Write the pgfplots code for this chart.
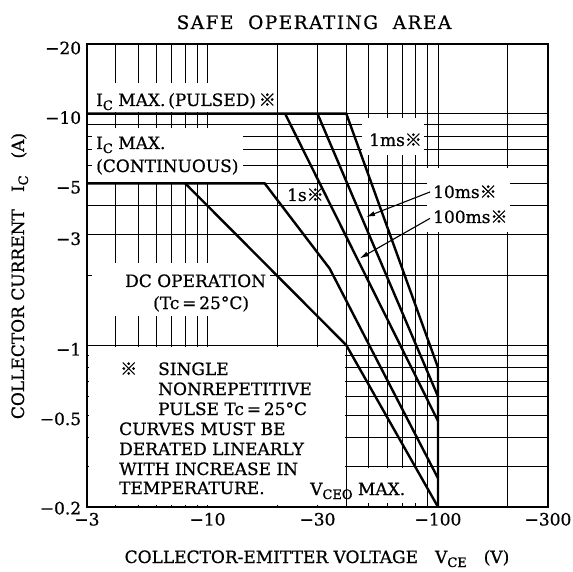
\documentclass[border=0pt]{standalone}
\usepackage{pgfplots}
\pgfplotsset{compat=1.18}
\usetikzlibrary{arrows.meta}
\usepackage{fontspec}
\setmainfont{DejaVu Serif}[FakeBold=0.7]
\newfontfamily\cjk{Noto Sans CJK JP}[FakeBold=1.2]
\newcommand\kome{{\cjk ※}}
\newcommand\sub[1]{\raisebox{-4pt}{\fontsize{13}{13}\selectfont #1}}
\begin{document}
\fontsize{17}{20}\selectfont
\begin{tikzpicture}
\path[use as bounding box] (-87pt,-64pt) rectangle (486pt,507pt);
\begin{axis}[
  at={(0pt,0pt)}, anchor=south west,
  scale only axis, width=461pt, height=463pt,
  xmode=log, ymode=log,
  xmin=3, xmax=300, ymin=0.2, ymax=20,
  xtick={3,10,30,100,300},
  xticklabels={−3,−10,−30,−100,−300},
  ytick={0.2,0.5,1,3,5,10,20},
  yticklabels={\raisebox{6pt}{−0.2},−0.5,−1,−3,−5,−10,−20},
  minor xtick={4,5,6,7,8,9,20,40,50,60,70,80,90,200},
  minor ytick={0.3,0.4,0.6,0.7,0.8,0.9,2,4,6,7,8,9},
  grid=both,
  major grid style={black, line width=0.7pt},
  minor grid style={black, line width=0.7pt},
  major tick length=0pt, minor tick length=0pt,
  axis line style={line width=1.6pt},
  ticklabel style={font=\fontsize{17}{17}\selectfont},
  yticklabel style={yshift=-4pt},
]
% white label boxes hiding the grid
\fill[white] (rel axis cs:0.005,0.853) rectangle (rel axis cs:0.401,0.916);
\fill[white] (rel axis cs:0.011,0.702) rectangle (rel axis cs:0.338,0.819);
\fill[white] (rel axis cs:0.597,0.760) rectangle (rel axis cs:0.731,0.840);
\fill[white] (rel axis cs:0.738,0.594) rectangle (rel axis cs:0.918,0.732);
\fill[white] (rel axis cs:0.425,0.654) rectangle (rel axis cs:0.495,0.693);
\fill[white] (rel axis cs:0.011,0.413) rectangle (rel axis cs:0.397,0.527);
\fill[white] (rel axis cs:0.005,0.004) rectangle (rel axis cs:0.560,0.346);
\fill[white] (rel axis cs:0.566,0.009) rectangle (rel axis cs:0.731,0.084);
% curves
\addplot[black, line width=2.4pt, no marks] coordinates {(3,10) (40,10) (100,0.8) (100,0.2)};
\addplot[black, line width=2.4pt, no marks] coordinates {(30,10) (100,0.6)};
\addplot[black, line width=2.4pt, no marks] coordinates {(21.7,10) (100,0.47)};
\addplot[black, line width=2.4pt, no marks] coordinates {(3,5) (17.7,5) (33.9,2.14) (100,0.266)};
\addplot[black, line width=2.4pt, no marks] coordinates {(8,5) (40,1) (100,0.2)};
% arrows
\draw[-{Latex[length=9pt,width=5pt]}, line width=1.1pt] (axis cs:92.3,4.59) -- (axis cs:48.7,3.58);
\draw[-{Latex[length=9pt,width=5pt]}, line width=1.1pt] (axis cs:92.3,3.53) -- (axis cs:45.7,2.37);
\end{axis}
\begin{scope}[x=1pt,y=-1pt,shift={(-87pt,507pt)}]
\node[anchor=base, inner sep=0] at (314,29) {\fontsize{18.5}{20}\selectfont\addfontfeature{LetterSpace=8}SAFE\ \ OPERATING\ \ AREA};
\node[anchor=base west, inner sep=0] at (96,106) {I\sub{C} MAX.\,(PULSED)\,\kome};
\node[anchor=base west, inner sep=0] at (96,149) {I\sub{C} MAX.};
\node[anchor=base west, inner sep=0] at (96,172) {(CONTINUOUS)};
\node[anchor=base west, inner sep=0] at (369,146) {1ms\kome};
\node[anchor=base west, inner sep=0] at (433,198) {10ms\kome};
\node[anchor=base west, inner sep=0] at (433,223) {100ms\kome};
\node[anchor=base west, inner sep=0] at (287,201) {1s\kome};
\node[anchor=base west, inner sep=0] at (125,287) {DC OPERATION};
\node[anchor=base west, inner sep=0] at (153,309) {(Tc\,=\,25°C)};
\node[anchor=base west, inner sep=0] at (120,375) {\kome};
\node[anchor=base west, inner sep=0] at (158,375) {SINGLE};
\node[anchor=base west, inner sep=0] at (158,395) {NONREPETITIVE};
\node[anchor=base west, inner sep=0] at (158,415) {PULSE Tc\,=\,25°C};
\node[anchor=base west, inner sep=0] at (119,435) {CURVES MUST BE};
\node[anchor=base west, inner sep=0] at (119,455) {DERATED LINEARLY};
\node[anchor=base west, inner sep=0] at (119,475) {WITH INCREASE IN};
\node[anchor=base west, inner sep=0] at (119,494) {TEMPERATURE.};
\node[anchor=base west, inner sep=0] at (310,495) {V\sub{CEO} MAX.};
\node[anchor=base, inner sep=0, rotate=90] at (24,276) {COLLECTOR CURRENT\quad I\sub{C}\quad (A)};
\node[anchor=base, inner sep=0] at (317,563) {COLLECTOR-EMITTER VOLTAGE\quad V\sub{CE}\quad (V)};
\end{scope}
\end{tikzpicture}
\end{document}
